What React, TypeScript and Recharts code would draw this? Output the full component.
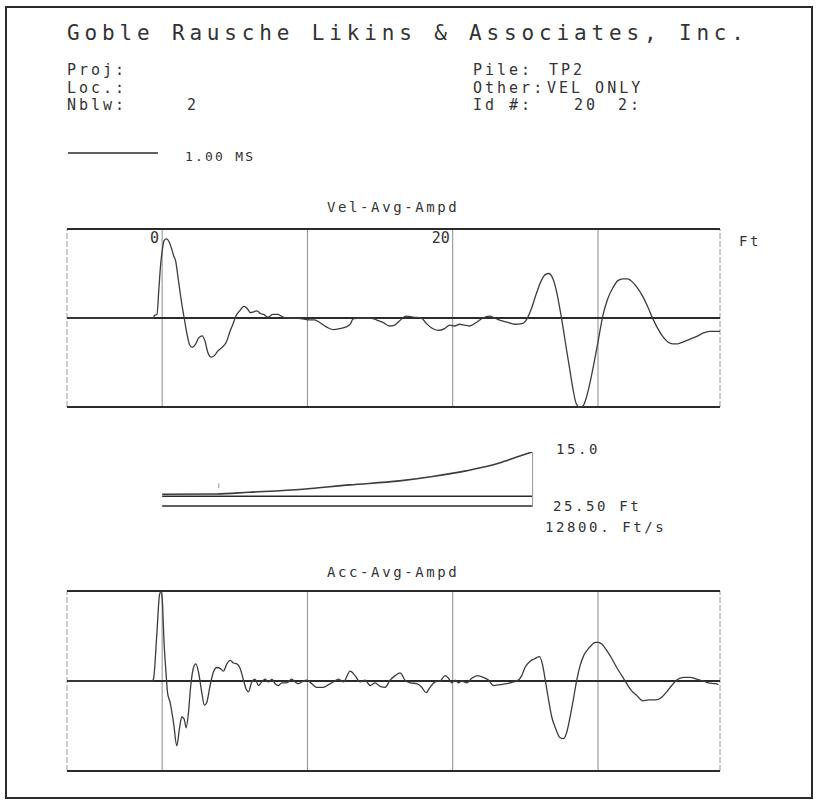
import { LineChart, Line, XAxis, YAxis, ReferenceLine } from 'recharts';

// distance along the pile, ft (same scale for all three plots)
const FT_MIN = -6.55;
const FT_MAX = 38.4;
const gridFt = [0, 10, 20, 30];
const tickLabels = ['0', '20'];

// [ft, normalised amplitude]
const velTrace: [number, number][] = [
  [-6.55, 0], [-0.63, 0], [-0.52, 0.03], [-0.36, 0.04], [-0.22, 0.34], [-0.1, 0.61], [0.01, 0.76],
  [0.13, 0.87], [0.29, 0.89], [0.47, 0.86], [0.63, 0.79], [0.79, 0.7], [0.93, 0.64], [1.09, 0.46],
  [1.25, 0.27], [1.39, 0.12], [1.55, -0.03], [1.71, -0.18], [1.89, -0.3], [2.08, -0.33], [2.28, -0.3],
  [2.53, -0.22], [2.76, -0.2], [2.95, -0.26], [3.15, -0.39], [3.38, -0.44], [3.61, -0.42], [3.84, -0.37],
  [4.19, -0.32], [4.42, -0.27], [4.65, -0.16], [4.87, -0.07], [5.1, 0.03], [5.33, 0.08], [5.63, 0.13],
  [5.84, 0.11], [6.07, 0.06], [6.3, 0.07], [6.53, 0.08], [6.76, 0.05], [6.99, 0.04], [7.28, 0.01],
  [7.63, 0.04], [7.97, 0.04], [8.32, 0.01], [8.77, 0], [9.23, 0], [9.69, -0.01], [10.15, -0.02],
  [10.5, -0.02], [10.84, -0.05], [11.3, -0.1], [11.76, -0.13], [12.22, -0.12], [12.67, -0.1],
  [12.95, -0.07], [13.14, -0.01], [13.59, 0], [14.28, 0], [14.74, -0.02], [15.2, -0.05], [15.66, -0.09],
  [16.0, -0.08], [16.35, -0.03], [16.8, 0.02], [17.26, 0.01], [17.84, 0], [18.18, -0.06], [18.53, -0.11],
  [18.98, -0.14], [19.44, -0.12], [19.79, -0.08], [20.13, -0.09], [20.47, -0.07], [20.82, -0.08],
  [21.16, -0.09], [21.62, -0.05], [22.08, 0], [22.54, 0.02], [22.88, 0], [23.34, -0.03], [23.8, -0.05],
  [24.26, -0.07], [24.83, -0.06], [25.11, -0.01], [25.41, 0.1], [25.75, 0.27], [26.1, 0.42], [26.39, 0.49],
  [26.62, 0.5], [26.9, 0.44], [27.13, 0.31], [27.36, 0.12], [27.59, -0.1], [27.82, -0.34], [28.05, -0.57],
  [28.27, -0.79], [28.5, -0.96], [28.73, -1.0], [28.96, -0.99], [29.19, -0.9], [29.42, -0.75], [29.7, -0.53],
  [30.0, -0.27], [30.34, 0.03], [30.68, 0.22], [31.03, 0.34], [31.37, 0.42], [31.72, 0.44], [32.06, 0.44],
  [32.4, 0.4], [32.75, 0.33], [33.09, 0.24], [33.44, 0.12], [33.78, -0.01], [34.12, -0.12], [34.47, -0.21],
  [34.81, -0.27], [35.16, -0.29], [35.5, -0.29], [35.85, -0.27], [36.3, -0.24], [36.76, -0.21],
  [37.22, -0.17], [37.68, -0.15], [38.25, -0.15], [38.4, -0.15],
];

const accTrace: [number, number][] = [
  [-6.55, 0], [-0.71, 0], [-0.6, 0.02], [-0.37, 0.51], [-0.18, 0.96], [-0.09, 0.99], [0.0, 0.92],
  [0.14, 0.4], [0.28, 0.06], [0.37, -0.13], [0.55, -0.24], [0.78, -0.46], [1.01, -0.72], [1.19, -0.53],
  [1.35, -0.4], [1.51, -0.42], [1.65, -0.52], [1.81, -0.35], [1.97, -0.05], [2.16, 0.15], [2.32, 0.19],
  [2.5, 0.1], [2.73, -0.13], [2.91, -0.27], [3.07, -0.24], [3.3, -0.05], [3.53, 0.1], [3.76, 0.15],
  [3.99, 0.14], [4.22, 0.11], [4.45, 0.19], [4.68, 0.23], [4.91, 0.2], [5.14, 0.19], [5.37, 0.14],
  [5.6, 0.01], [5.78, -0.09], [5.94, -0.12], [6.17, -0.01], [6.4, 0.02], [6.63, -0.05], [6.86, -0.01],
  [7.09, 0.02], [7.32, -0.01], [7.55, 0.02], [7.78, -0.03], [8.01, -0.05], [8.24, -0.02], [8.58, -0.02],
  [8.92, 0.02], [9.15, -0.01], [9.38, -0.03], [9.61, -0.01], [9.96, 0.01], [10.3, -0.03], [10.64, -0.07],
  [11.1, -0.07], [11.45, -0.04], [11.79, -0.01], [12.14, 0.02], [12.48, -0.01], [12.94, 0.11],
  [13.28, 0.06], [13.63, -0.01], [13.97, 0.01], [14.32, -0.05], [14.66, -0.02], [15.0, -0.06],
  [15.35, -0.07], [15.69, 0.01], [16.04, 0.06], [16.38, 0.09], [16.72, 0.01], [17.07, -0.02],
  [17.53, -0.03], [17.87, -0.07], [18.17, -0.13], [18.44, -0.07], [18.79, -0.01], [19.13, 0.0],
  [19.48, 0.06], [19.71, 0.03], [19.94, -0.02], [20.17, 0.01], [20.39, -0.02], [20.62, 0.0],
  [20.97, -0.02], [21.31, 0.03], [21.7, 0.06], [22.12, 0.04], [22.46, 0.01], [22.8, -0.05], [23.26, -0.04],
  [23.72, -0.03], [24.18, -0.01], [24.52, 0.01], [24.75, 0.06], [24.98, 0.15], [25.33, 0.22], [25.67, 0.25],
  [25.97, 0.27], [26.2, 0.17], [26.36, 0.02], [26.59, -0.2], [26.82, -0.4], [27.09, -0.53], [27.39, -0.63],
  [27.62, -0.64], [27.85, -0.57], [28.08, -0.4], [28.31, -0.2], [28.54, 0.01], [28.77, 0.17], [29.04, 0.29],
  [29.34, 0.36], [29.57, 0.4], [29.8, 0.43], [30.03, 0.43], [30.26, 0.41], [30.6, 0.34], [30.95, 0.25],
  [31.29, 0.15], [31.64, 0.06], [31.98, -0.03], [32.32, -0.11], [32.67, -0.16], [33.08, -0.22],
  [33.47, -0.21], [33.93, -0.21], [34.39, -0.18], [34.73, -0.12], [35.08, -0.05], [35.42, 0.01],
  [35.88, 0.04], [36.34, 0.04], [36.8, 0.02], [37.26, 0.0], [37.6, -0.02], [38.06, -0.03], [38.3, -0.04],
];

// impedance-ish profile drawn between the two traces
const PILE_LEN = 25.5;
const PROFILE_TOP = 15.0;
const PROFILE_BOTTOM = -3.3;
const profile: [number, number][] = [
  [0, 0.68], [3.72, 0.78], [6.0, 1.36], [9.69, 2.39], [12.89, 3.85], [16.33, 5.2], [18.62, 6.7],
  [20.91, 8.6], [23.21, 11.25], [24.36, 13.2], [25.46, 15.0],
];

const FONT = '"DejaVu Sans Mono", monospace';
const INK = '#333';
const LINE = '#2b2b2b';

const toRows = (pts: [number, number][]) => pts.map(([ft, v]) => ({ ft, v }));

type PanelProps = { rows: { ft: number; v: number }[]; top: number; height: number; labels?: boolean };

function TracePanel({ rows, top, height, labels }: PanelProps) {
  return (
    <div style={{ position: 'absolute', left: 57, top: top - 10 }}>
      <LineChart width={673} height={height + 20} data={rows} margin={{ top: 10, right: 10, bottom: 10, left: 10 }}>
        <XAxis type="number" dataKey="ft" domain={[FT_MIN, FT_MAX]} hide allowDataOverflow />
        <YAxis type="number" domain={[-1, 1]} hide allowDataOverflow />
        <ReferenceLine x={FT_MIN} stroke="#9a9a9a" strokeWidth={1} strokeDasharray="6 2" />
        <ReferenceLine x={FT_MAX} stroke="#9a9a9a" strokeWidth={1} strokeDasharray="6 2" />
        {gridFt.map((g, i) => (
          <ReferenceLine
            key={g}
            x={g}
            stroke="#8c8c8c"
            strokeWidth={1}
            label={
              labels && i % 2 === 0
                ? { value: tickLabels[i / 2], position: 'insideTopRight', offset: 3, fill: INK, fontSize: 15, fontFamily: FONT }
                : undefined
            }
          />
        ))}
        <ReferenceLine y={1} stroke={LINE} strokeWidth={2} />
        <ReferenceLine y={-1} stroke={LINE} strokeWidth={2} />
        <ReferenceLine y={0} stroke={LINE} strokeWidth={2} />
        <Line dataKey="v" type="monotone" dot={false} stroke="#3c3c3c" strokeWidth={1.3} isAnimationActive={false} />
      </LineChart>
    </div>
  );
}

function ProfilePanel() {
  return (
    <div style={{ position: 'absolute', left: 57, top: 442 }}>
      <LineChart width={673} height={74} data={toRows(profile)} margin={{ top: 10, right: 10, bottom: 10, left: 10 }}>
        <XAxis type="number" dataKey="ft" domain={[FT_MIN, FT_MAX]} hide allowDataOverflow />
        <YAxis type="number" domain={[PROFILE_BOTTOM, PROFILE_TOP]} hide allowDataOverflow />
        <ReferenceLine segment={[{ x: 0, y: 0 }, { x: PILE_LEN, y: 0 }]} stroke={LINE} strokeWidth={1.6} />
        <ReferenceLine segment={[{ x: 0, y: PROFILE_BOTTOM }, { x: PILE_LEN, y: PROFILE_BOTTOM }]} stroke={LINE} strokeWidth={1.6} />
        <ReferenceLine segment={[{ x: PILE_LEN, y: PROFILE_BOTTOM }, { x: PILE_LEN, y: PROFILE_TOP }]} stroke="#999" strokeWidth={1} />
        <ReferenceLine segment={[{ x: 3.9, y: 2.7 }, { x: 3.9, y: 4.4 }]} stroke="#999" strokeWidth={1} />
        <Line dataKey="v" type="monotone" dot={false} stroke="#3c3c3c" strokeWidth={1.6} isAnimationActive={false} />
      </LineChart>
    </div>
  );
}

const small = { fontFamily: FONT, fontSize: 15, fill: INK, letterSpacing: 3 };
const mid = { fontFamily: FONT, fontSize: 14, fill: INK, letterSpacing: 2.6 };

export default function App() {
  return (
    <div style={{ position: 'absolute', left: 0, top: 0, width: 818, height: 802, background: '#fff', overflow: 'hidden' }}>
      <svg width={818} height={802} style={{ position: 'absolute', left: 0, top: 0 }}>
        <rect x={6} y={7} width={806} height={791} fill="none" stroke={LINE} strokeWidth={2} />
        <text x={67} y={40} fontFamily={FONT} fontSize={21} fill={INK} textLength={677} lengthAdjust="spacing">
          Goble Rausche Likins &amp; Associates, Inc.
        </text>
        <text x={67} y={75} {...small}>Proj:</text>
        <text x={67} y={93} {...small}>Loc.:</text>
        <text x={67} y={110} {...small}>Nblw:</text>
        <text x={187} y={110} {...small}>2</text>
        <text x={473} y={75} {...small}>Pile:</text>
        <text x={549} y={75} {...small}>TP2</text>
        <text x={473} y={93} {...small}>Other:</text>
        <text x={547} y={93} {...small}>VEL ONLY</text>
        <text x={473} y={110} {...small}>Id #:</text>
        <text x={574} y={110} {...small}>20</text>
        <text x={618} y={110} {...small}>2:</text>
        <line x1={68} y1={153} x2={158} y2={153} stroke={LINE} strokeWidth={1.5} />
        <text x={185} y={161} fontFamily={FONT} fontSize={13} fill={INK} letterSpacing={2.2}>1.00 MS</text>
        <text x={327} y={212} {...mid}>Vel-Avg-Ampd</text>
        <text x={739} y={246} {...mid}>Ft</text>
        <text x={556} y={454} {...mid}>15.0</text>
        <text x={553} y={511} {...mid}>25.50 Ft</text>
        <text x={545} y={532} {...mid}>12800. Ft/s</text>
        <text x={327} y={577} {...mid}>Acc-Avg-Ampd</text>
      </svg>
      <TracePanel rows={toRows(velTrace)} top={229} height={178} labels />
      <ProfilePanel />
      <TracePanel rows={toRows(accTrace)} top={591} height={180} />
    </div>
  );
}
